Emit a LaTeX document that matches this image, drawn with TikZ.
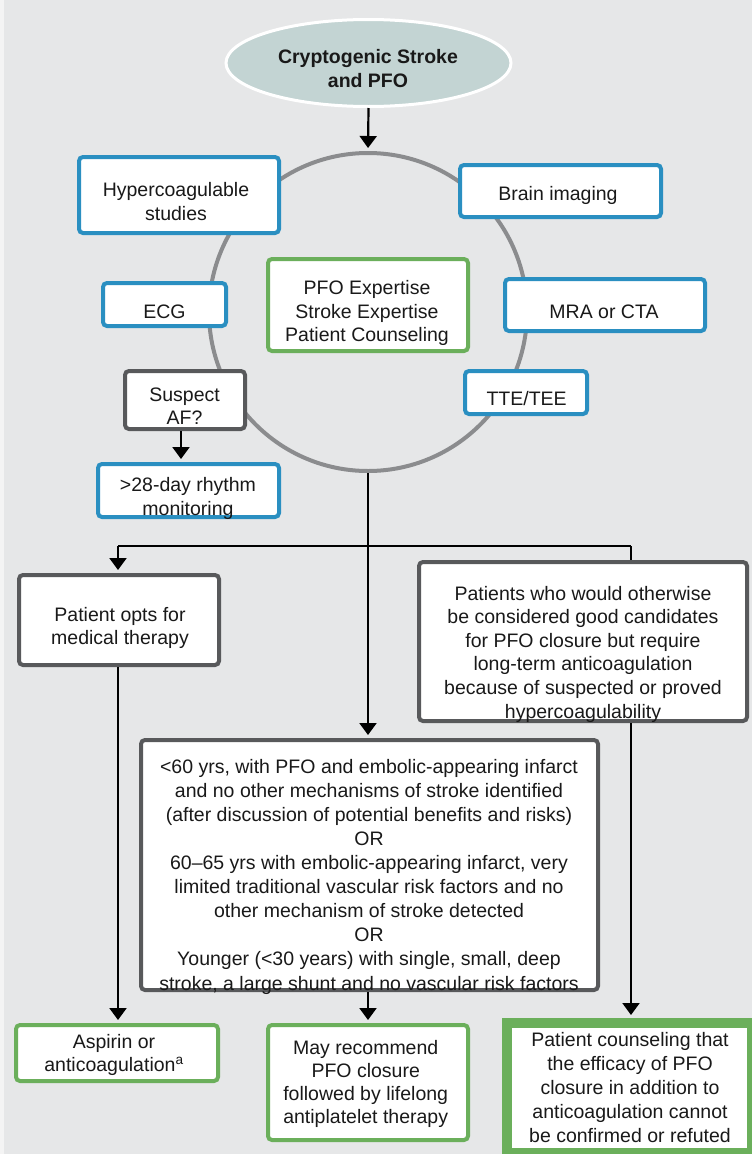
\documentclass[tikz,border=0pt]{standalone}
\usepackage{fontspec}
\setmainfont{Liberation Sans}
\usetikzlibrary{arrows.meta,shapes.geometric}
\definecolor{bg}{HTML}{E6E7E8}
\definecolor{strip}{HTML}{F4F4F4}
\definecolor{bblue}{HTML}{2A8FC1}
\definecolor{bgreen}{HTML}{6BAF5B}
\definecolor{bgray}{HTML}{58595B}
\definecolor{ringc}{HTML}{8B8C8E}
\definecolor{ellfill}{HTML}{C3D4D3}
\begin{document}
\begin{tikzpicture}[x=1pt,y=-1pt,
  box/.style={rectangle, rounded corners=4pt, fill=white, line width=4pt, inner sep=0pt},
  bluebox/.style={box, draw=bblue},
  greenbox/.style={box, draw=bgreen},
  graybox/.style={box, draw=bgray},
  txt/.style={align=center, inner sep=0pt, font=\fontsize{19.5}{23.6}\selectfont, text=black!90},
  conn/.style={line width=2.2pt, draw=black},
  arr/.style={conn, -{Triangle[width=17pt,length=12pt]}, shorten >=3pt},
]
\useasboundingbox (0,0) rectangle (752,1154);
\clip (0,0) rectangle (752,1154);
\fill[bg] (0,0) rectangle (752,1154);
\fill[strip] (0,0) rectangle (4,1154);

% ring
\node[draw=ringc, line width=4pt, circle, minimum size=318pt, inner sep=0pt] (ring) at (368,312) {};

% start ellipse
\node[ellipse, draw=white, line width=3pt, fill=ellfill, minimum width=285pt, minimum height=87pt, inner sep=0pt] (start) at (368.5,63) {};
\node[txt, font=\bfseries\fontsize{19.5}{24}\selectfont] (startT) at (368,68.5) {Cryptogenic Stroke\\and PFO};

% boxes around the ring
\node[bluebox, minimum width=200pt, minimum height=76pt] (hyp) at (179,195) {};
\node[txt] (hypT) at (176,201.5) {Hypercoagulable\\studies};
\node[bluebox, minimum width=201pt, minimum height=52pt] (brain) at (560.5,191) {};
\node[txt] (brainT) at (558,195.5) {Brain imaging};
\node[bluebox, minimum width=123pt, minimum height=43pt] (ecg) at (164.5,304.5) {};
\node[txt] (ecgT) at (164.5,311.5) {ECG};
\node[greenbox, minimum width=200pt, minimum height=92pt] (pfo) at (368,305) {};
\node[txt] (pfoT) at (367,313) {PFO Expertise\\Stroke Expertise\\Patient Counseling};
\node[bluebox, minimum width=200pt, minimum height=52pt] (mra) at (605,305) {};
\node[txt] (mraT) at (604,311.5) {MRA or CTA};
\node[graybox, minimum width=120pt, minimum height=58pt] (af) at (185,400) {};
\node[txt] (afT) at (184.6,406) {Suspect\\AF?};
\node[bluebox, minimum width=122pt, minimum height=43pt] (tte) at (526,392.5) {};
\node[txt] (tteT) at (526.6,398.5) {TTE/TEE};
\node[bluebox, minimum width=181pt, minimum height=53pt] (rhy) at (188.5,490.5) {};
\node[txt] (rhyT) at (188,498.5) {>28-day rhythm\\monitoring};

% decision boxes
\node[graybox, minimum width=200pt, minimum height=90pt] (opts) at (119,620) {};
\node[txt] (optsT) at (120,628) {Patient opts for\\medical therapy};
\node[graybox, minimum width=328pt, minimum height=159pt] (oth) at (583,641.5) {};
\node[txt] (othT) at (583,654) {Patients who would otherwise\\be considered good candidates\\for PFO closure but require\\long-term anticoagulation\\because of suspected or proved\\hypercoagulability};
\node[graybox, minimum width=457pt, minimum height=250pt] (big) at (369.5,865) {};
\node[txt, font=\fontsize{19.5}{24.1}\selectfont] (bigT) at (369,876.5) {<60 yrs, with PFO and embolic-appearing infarct\\and no other mechanisms of stroke identified\\(after discussion of potential benefits and risks)\\OR\\60–65 yrs with embolic-appearing infarct, very\\limited traditional vascular risk factors and no\\other mechanism of stroke detected\\OR\\Younger (<30 years) with single, small, deep\\stroke, a large shunt and no vascular risk factors};

% outcome boxes
\node[greenbox, minimum width=202pt, minimum height=56pt] (asp) at (117,1053) {};
\node[txt] (aspT) at (114,1055) {Aspirin or\\anticoagulation\textsuperscript{a}};
\node[greenbox, minimum width=200pt, minimum height=115pt] (may) at (368,1082.5) {};
\node[txt, font=\fontsize{19.5}{23}\selectfont] (mayT) at (365.7,1083.5) {May recommend\\PFO closure\\followed by lifelong\\antiplatelet therapy};
\node[draw=bgreen, fill=white, line width=10pt, minimum width=245pt, minimum height=130pt, inner sep=0pt] (cou) at (629.5,1088) {};
\node[txt, font=\fontsize{19.5}{24}\selectfont] (couT) at (630,1088) {Patient counseling that\\the efficacy of PFO\\closure in addition to\\anticoagulation cannot\\be confirmed or refuted};

% connectors
\coordinate (lx) at (118,546);
\coordinate (rx) at (631,546);
\coordinate (afx) at (181,0);
\draw[arr] (start.south) -- (ring.north);
\draw[arr] (af.south -| afx) -- (rhy.north -| afx);
\draw[arr] (ring.south) -- (big.north -| ring.south);
\draw[conn] (lx) -- (rx);
\draw[arr] (lx) -- (opts.north -| lx);
\draw[conn] (rx) -- (oth.north -| rx);
\draw[arr] (opts.south -| lx) -- (asp.north -| lx);
\draw[arr] (big.south -| may.north) -- (may.north);
\draw[arr] (oth.south -| rx) -- (cou.north -| rx);
\end{tikzpicture}
\end{document}
